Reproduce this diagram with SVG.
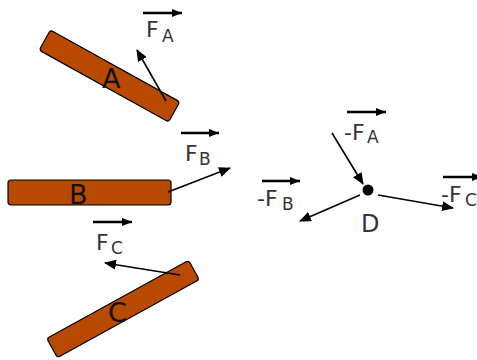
<svg xmlns="http://www.w3.org/2000/svg" width="477" height="360" viewBox="0 0 477 360">
<defs>
<marker id="ah" markerUnits="userSpaceOnUse" markerWidth="12" markerHeight="10" refX="11" refY="5" orient="auto">
<path d="M0,0 L12,5 L0,10 Z" fill="#000"/>
</marker>
<marker id="oh" markerUnits="userSpaceOnUse" markerWidth="10" markerHeight="8" refX="10" refY="4" orient="auto">
<path d="M0,0 L10,4 L0,8 Z" fill="#000"/>
</marker>
<style>
.bar{fill:#b84a00;stroke:#000;stroke-width:1.2}
.f{stroke:#000;stroke-width:1.6;fill:none}
.ov{stroke:#000;stroke-width:2.6;fill:none}
.lbl{font-family:"DejaVu Sans",sans-serif;fill:#333;font-size:22px}
.sub{font-size:17px}
.big{font-family:"DejaVu Sans",sans-serif;fill:#111;font-size:27px}
</style>
</defs>
<g id="barA">
<rect class="bar" x="-74" y="-11.5" width="148" height="23" rx="3" transform="translate(109.5,76) rotate(29)"/>
<text class="big" x="102" y="88">A</text>
</g>
<g id="barB">
<rect class="bar" x="8" y="180" width="163" height="25" rx="3"/>
<text class="big" x="69" y="204">B</text>
</g>
<g id="barC">
<rect class="bar" x="-81" y="-11" width="162" height="22" rx="3" transform="translate(123,309) rotate(-28.8)"/>
<text class="big" x="108" y="322">C</text>
</g>
<g id="pointD">
<circle cx="368" cy="190" r="5.5" fill="#000"/>
<text class="big" x="361" y="232" style="fill:#333;font-size:24px">D</text>
</g>
<g id="connectors">
<line class="f" x1="166" y1="101" x2="137" y2="50" marker-end="url(#ah)"/>
<line class="f" x1="168" y1="192" x2="230" y2="168" marker-end="url(#ah)"/>
<line class="f" x1="180" y1="275" x2="105" y2="263" marker-end="url(#ah)"/>
<line class="f" x1="332" y1="133" x2="363" y2="184" marker-end="url(#ah)"/>
<line class="f" x1="360" y1="195" x2="300" y2="221" marker-end="url(#ah)"/>
<line class="f" x1="378" y1="195" x2="453" y2="208" marker-end="url(#ah)"/>
</g>
<g id="labelFA">
<line class="ov" x1="143" y1="13" x2="182" y2="13" marker-end="url(#oh)"/>
<text class="lbl" x="146" y="37">F</text><text class="lbl sub" x="162" y="42">A</text>
</g>
<g id="labelFB">
<line class="ov" x1="181" y1="133" x2="219" y2="133" marker-end="url(#oh)"/>
<text class="lbl" x="185" y="161">F</text><text class="lbl sub" x="199" y="165">B</text>
</g>
<g id="labelFC">
<line class="ov" x1="93" y1="222" x2="132" y2="222" marker-end="url(#oh)"/>
<text class="lbl" x="96" y="250">F</text><text class="lbl sub" x="111" y="254">C</text>
</g>
<g id="labelmFA">
<line class="ov" x1="347" y1="112" x2="386" y2="112" marker-end="url(#oh)"/>
<text class="lbl" x="344" y="140">-F</text><text class="lbl sub" x="367" y="143">A</text>
</g>
<g id="labelmFB">
<line class="ov" x1="262" y1="181" x2="300" y2="181" marker-end="url(#oh)"/>
<text class="lbl" x="257" y="206">-F</text><text class="lbl sub" x="282" y="210">B</text>
</g>
<g id="labelmFC">
<line class="ov" x1="443" y1="177" x2="482" y2="177" marker-end="url(#oh)"/>
<text class="lbl" x="441" y="202">-F</text><text class="lbl sub" x="465" y="206">C</text>
</g>
</svg>
